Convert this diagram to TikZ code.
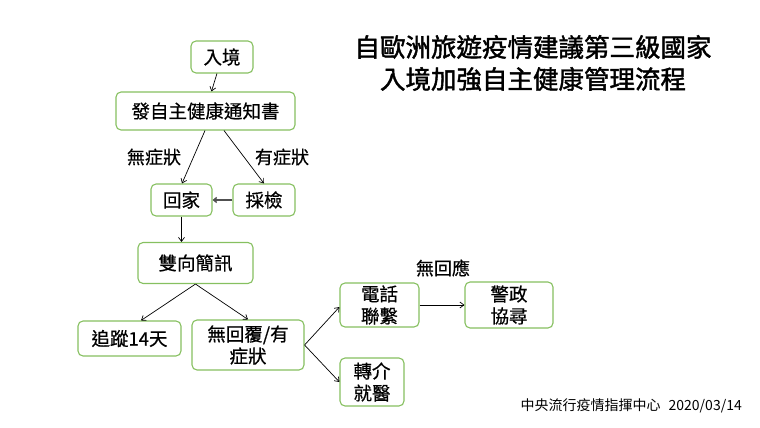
\documentclass[tikz,border=0pt]{standalone}
\usepackage{fontspec}
\setmainfont{Noto Sans CJK TC}
\newfontfamily\boxfont[FakeBold=0.6]{Noto Sans CJK TC}
\newfontfamily\titlefont[FakeBold=1.6]{Noto Sans CJK TC}
\usetikzlibrary{arrows.meta}
\definecolor{boxgreen}{RGB}{134,192,96}
\definecolor{darkarrow}{RGB}{80,80,80}
\tikzset{
  flowbox/.style={draw=boxgreen, line width=1.1pt, rounded corners=5pt, fill=white,
    inner sep=0pt, font=\boxfont\fontsize{18.5}{22}\selectfont, align=center},
  conn/.style={-{Straight Barb[length=4pt,width=6pt]}, line width=0.7pt, black},
  lbl/.style={font=\boxfont\fontsize{18}{20}\selectfont, inner sep=0pt},
}
\begin{document}
\begin{tikzpicture}[x=1pt,y=-1pt]
\useasboundingbox (0,0) rectangle (760,428);
% title
\node[font=\titlefont\fontsize{25.5}{32}\selectfont, align=center, inner sep=0pt] (title) at (533,63)
  {自歐洲旅遊疫情建議第三級國家\\入境加強自主健康管理流程};
% boxes
\node[flowbox, minimum width=62pt, minimum height=32pt] (entry) at (222,57) {入境};
\node[flowbox, minimum width=179pt, minimum height=38pt] (notice) at (205.5,111) {發自主健康通知書};
\node[flowbox, minimum width=61pt, minimum height=32pt] (home) at (181.5,200) {回家};
\node[flowbox, minimum width=62pt, minimum height=32pt] (test) at (264,200) {採檢};
\node[flowbox, minimum width=115pt, minimum height=41pt] (sms) at (195.5,263) {雙向簡訊};
\node[flowbox, minimum width=103pt, minimum height=35pt] (track) at (129.5,338.5) {追蹤14天};
\node[flowbox, minimum width=112pt, minimum height=50pt] (noreply) at (248,345) {無回覆/有\\症狀};
\node[flowbox, minimum width=79pt, minimum height=44pt] (phone) at (379.5,305) {電話\\聯繫};
\node[flowbox, minimum width=64pt, minimum height=48pt] (refer) at (372,382) {轉介\\就醫};
\node[flowbox, minimum width=88pt, minimum height=46pt] (police) at (509,305) {警政\\協尋};
% labels
\node[lbl] (lnosym) at (154,157) {無症狀};
\node[lbl] (lsym) at (282,157) {有症狀};
\node[lbl] (lnoresp) at (443,268) {無回應};
\node[font=\fontsize{14}{16}\selectfont, inner sep=0pt, anchor=east] (footer) at (742,406) {中央流行疫情指揮中心\hspace{8pt}2020/03/14};
% connectors
\draw[conn] (entry) -- (notice);
\draw[conn] ([xshift=-0.5pt]notice.south) -- ([xshift=0.5pt]home.north);
\draw[conn] ([xshift=18.5pt]notice.south) -- (test.north);
\draw[-{Straight Barb[length=3pt,width=5pt]}, line width=1.5pt, darkarrow] (test) -- (home);
\draw[conn] (home) -- (home |- sms.north);
\draw[conn] (sms.south) -- ([xshift=11.5pt]track.north);
\draw[conn] (sms.south) -- (noreply.north);
\draw[conn] (noreply.east) -- ([yshift=-2pt]phone.west);
\draw[conn] (noreply.east) -- (refer.west);
\draw[conn] (phone) -- (police);
\end{tikzpicture}
\end{document}
